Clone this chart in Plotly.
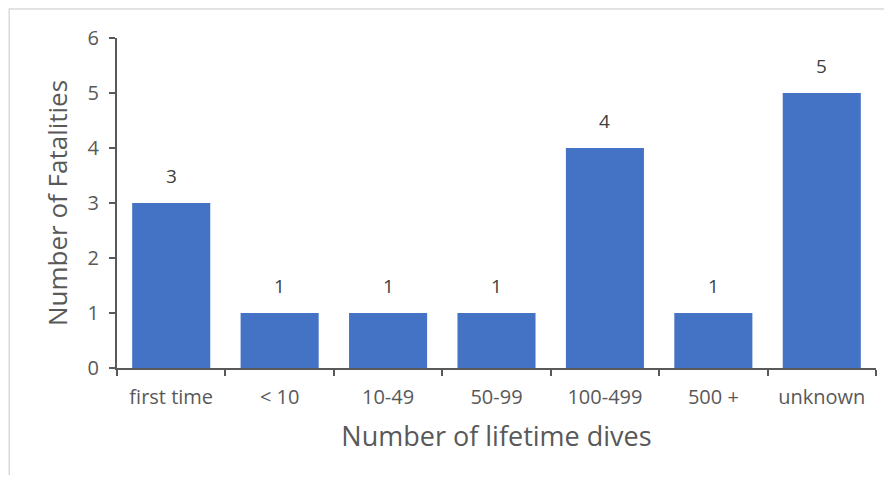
import plotly.graph_objects as go

categories = ["first time", "< 10", "10-49", "50-99", "100-499", "500 +", "unknown"]
fatalities = [3, 1, 1, 1, 4, 1, 5]
y_ticks = [0, 1, 2, 3, 4, 5, 6]

axis_grey = "#595959"
font_name = "Open Sans, Liberation Sans, sans-serif"

fig = go.Figure(
    go.Bar(
        x=categories,
        y=fatalities,
        marker_color="#4472C4",
        marker_line_width=0,
        hoverinfo="x+y",
    )
)

# value labels sit well above the bars, as in the spreadsheet export
for cat, val in zip(categories, fatalities):
    fig.add_annotation(
        x=cat, y=val, text=str(val),
        showarrow=False, yanchor="middle", yshift=27,
        font=dict(size=19, color="#404040", family=font_name),
    )

fig.update_layout(
    width=876,
    height=467,
    plot_bgcolor="#ffffff",
    paper_bgcolor="#ffffff",
    bargap=0.28,
    margin=dict(l=109, r=8, t=30, b=107),
    showlegend=False,
    font=dict(family=font_name, color=axis_grey),
)

fig.update_xaxes(
    type="category",
    showline=True,
    linecolor=axis_grey,
    linewidth=2,
    ticks="outside",
    tickson="boundaries",
    ticklen=6,
    tickwidth=2,
    tickcolor=axis_grey,
    tickfont=dict(size=20, color=axis_grey),
    ticklabelstandoff=10,
    showgrid=False,
    title=dict(text="Number of lifetime dives", font=dict(size=27, color=axis_grey), standoff=18),
)
fig.update_yaxes(
    range=[0, 6],
    tickvals=y_ticks,
    showline=True,
    linecolor=axis_grey,
    linewidth=2,
    ticks="outside",
    ticklen=6,
    tickwidth=2,
    tickcolor=axis_grey,
    tickfont=dict(size=20, color=axis_grey),
    ticklabelstandoff=6,
    showgrid=False,
    zeroline=False,
    title=dict(text="Number of Fatalities", font=dict(size=26, color=axis_grey), standoff=12),
)

# thin chart-area border
fig.add_shape(
    type="rect", xref="paper", yref="paper",
    x0=-0.142, x1=1.1, y0=-0.5, y1=1.088,
    line=dict(color="#d9d9d9", width=1.5),
    layer="below",
)

fig.write_html("out.html")
